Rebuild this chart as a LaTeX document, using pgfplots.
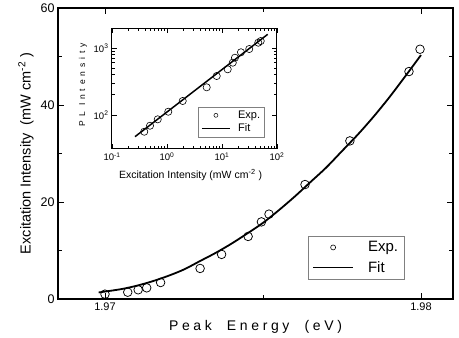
\documentclass[border=0pt]{standalone}
\usepackage{fontspec}
\setmainfont{Liberation Sans}
\newfontfamily\spaced[LetterSpace=26]{Liberation Sans}
\newfontfamily\spacedsmall[LetterSpace=45]{Liberation Sans}
\usepackage{pgfplots}
\pgfplotsset{compat=1.18}
\begin{document}
\begin{tikzpicture}
\useasboundingbox (-58pt,-39pt) rectangle (401pt,299pt);
\begin{axis}[
  at={(0pt,0pt)}, anchor=south west, scale only axis,
  width=395pt, height=291pt,
  xmin=1.968513, xmax=1.981013, ymin=0, ymax=60,
  xtick={1.97,1.98}, minor xtick={1.975},
  ytick={0,20,40,60}, minor ytick={10,30,50},
  tick align=inside, major tick length=6pt, minor tick length=4pt,
  tick style={black, line width=0.9pt},
  axis line style={line width=1.2pt},
  /pgf/number format/assume math mode=true,
  scaled x ticks=false,
  xticklabel style={/pgf/number format/fixed, /pgf/number format/fixed zerofill, /pgf/number format/precision=2, font=\fontsize{11}{13}\selectfont},
  yticklabel style={font=\fontsize{12.5}{14}\selectfont},
  xlabel={\spaced\fontsize{14}{16}\selectfont Peak\ \ Energy\ \ (eV)},
  ylabel={\fontsize{14.5}{16}\selectfont Excitation Intensity\ \ (mW cm\textsuperscript{-2} )},
  x label style={at={(axis description cs:0.5,-0.096)}, anchor=center},
  y label style={at={(axis description cs:-0.081,0.5)}, anchor=center},
  legend style={at={(axis description cs:0.633,0.069)}, anchor=south west,
    draw=gray, font=\fontsize{15}{17}\selectfont,
    nodes={inner sep=2pt}, inner xsep=4pt, inner ysep=3pt, row sep=4pt, column sep=12pt},
  legend cell align=left,
]
\addplot[only marks, mark=o, mark size=4.3pt, mark options={line width=0.75pt},
  legend image code/.code={\draw[black, line width=0.6pt] (20pt,0pt) circle[radius=2.5pt];}]
  coordinates {
  (1.97000,1.0) (1.97072,1.4) (1.97105,1.9) (1.97132,2.3) (1.97176,3.4)
  (1.97301,6.3) (1.97369,9.2) (1.97453,12.9) (1.97495,15.9) (1.97519,17.5)
  (1.97633,23.6) (1.97775,32.6) (1.97962,46.9) (1.97997,51.5)
  };
\addlegendentry{Exp.}
\addplot[black, line width=1.8pt, smooth,
  legend image code/.code={\draw[black, line width=1.8pt] (0pt,0pt) -- (40pt,0pt);}]
  coordinates {
  (1.96980,1.35) (1.97050,2.02) (1.97100,2.73) (1.97150,3.65) (1.97200,4.77)
  (1.97250,6.09) (1.97300,7.8) (1.97350,9.5) (1.97400,11.4) (1.97450,13.5)
  (1.97500,15.7) (1.97550,18.3) (1.97600,21.1) (1.97650,24.1) (1.97700,27.1)
  (1.97750,30.5) (1.97800,33.9) (1.97850,37.6) (1.97900,41.6) (1.97950,45.9)
  (1.98000,50.3)
  };
\addlegendentry{Fit}
\end{axis}
\begin{axis}[
  at={(54pt,150pt)}, anchor=south west, scale only axis,
  width=165pt, height=121pt,
  xmode=log, ymode=log,
  xmin=0.1, xmax=100, ymin=31.1, ymax=1989,
  xtick={0.1,1,10,100}, ytick={100,1000},
  xticklabels={10\textsuperscript{-1},10\textsuperscript{0},10\textsuperscript{1},10\textsuperscript{2}},
  yticklabels={10\textsuperscript{2},10\textsuperscript{3}},
  minor xtick={}, minor ytick={},
  tick align=inside, major tick length=5pt,
  tick style={black, line width=0.8pt},
  axis line style={line width=1pt},
  ticklabel style={font=\fontsize{9.5}{11}\selectfont},
  xlabel={\fontsize{10.5}{12}\selectfont Excitation Intensity (mW cm\textsuperscript{-2} )},
  ylabel={\spacedsmall\fontsize{8.5}{10}\selectfont PL Intensity},
  x label style={at={(axis description cs:0.476,-0.215)}, anchor=center},
  y label style={at={(axis description cs:-0.176,0.53)}, anchor=center},
  legend style={at={(axis description cs:0.521,0.099)}, anchor=south west,
    draw=gray, font=\fontsize{11}{12}\selectfont,
    nodes={inner sep=1.5pt}, inner xsep=3pt, inner ysep=2pt, row sep=1pt, column sep=6pt},
  legend cell align=left,
]
\addplot[only marks, mark=o, mark size=3.6pt, mark options={line width=0.6pt},
  legend image code/.code={\draw[black, line width=0.5pt] (14pt,0pt) circle[radius=2pt];}]
  coordinates {
  (0.386,56.3) (0.491,69.2) (0.678,86.2) (1.056,112) (1.93,162)
  (5.27,259) (8.01,382) (12.7,481) (15.7,604) (17.2,716)
  (22.1,863) (31.3,966) (45.7,1200) (50.6,1271)
  };
\addlegendentry{Exp.}
\addplot[black, line width=1.5pt,
  legend image code/.code={\draw[black, line width=1.5pt] (0pt,0pt) -- (28pt,0pt);}]
  coordinates {(0.262,47.5) (67.7,1600)};
\addlegendentry{Fit}
\end{axis}
\end{tikzpicture}
\end{document}
